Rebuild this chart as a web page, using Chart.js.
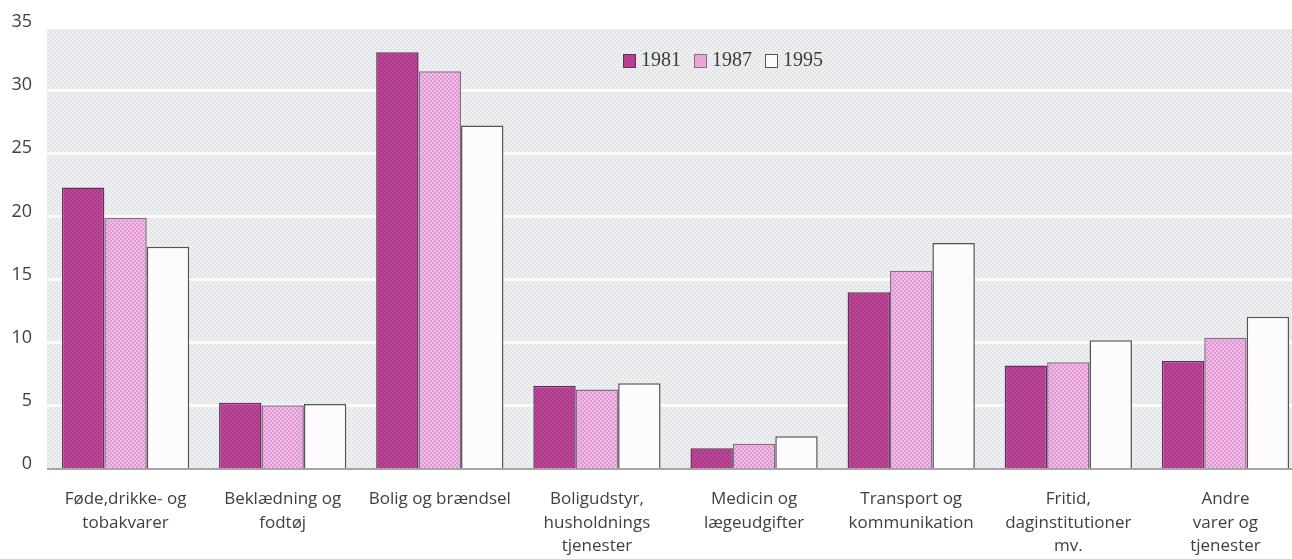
<!DOCTYPE html>
<html>
<head>
<meta charset="utf-8">
<script src="https://cdn.jsdelivr.net/npm/chart.js@4.4.1/dist/chart.umd.min.js"></script>
<style>
  html, body { margin: 0; padding: 0; background: #fff; overflow: hidden; }
  #wrap { width: 1304px; height: 559px; }
</style>
</head>
<body>
<div id="wrap"><canvas id="chart"></canvas></div>
<script>
// forbrugsandele i procent, fordelt på grupper
const categories = [
  ["Føde,drikke- og", "tobakvarer"],
  ["Beklædning og", "fodtøj"],
  ["Bolig og brændsel"],
  ["Boligudstyr,", "husholdnings", "tjenester"],
  ["Medicin og", "lægeudgifter"],
  ["Transport og", "kommunikation"],
  ["Fritid,", "daginstitutioner", "mv."],
  ["Andre", "varer og", "tjenester"]
];
const years = ["1981", "1987", "1995"];
const values1981 = [22.3, 5.25, 33.0, 6.6, 1.65, 14.0, 8.2, 8.55];
const values1987 = [19.9, 5.05, 31.5, 6.3, 2.0, 15.7, 8.45, 10.4];
const values1995 = [17.6, 5.15, 27.2, 6.8, 2.6, 17.9, 10.2, 12.05];
const yTicks = [0, 5, 10, 15, 20, 25, 30, 35];

// små ternede mønstre til baggrund og søjler
function checker(a, b, size) {
  const c = document.createElement("canvas");
  c.width = c.height = size * 2;
  const g = c.getContext("2d");
  g.fillStyle = a;
  g.fillRect(0, 0, size * 2, size * 2);
  g.fillStyle = b;
  g.fillRect(0, 0, size, size);
  g.fillRect(size, size, size, size);
  return g.createPattern(c, "repeat");
}

const bgPattern = checker("#e3e4e7", "#eff0f2", 2);
const fills = [
  checker("#ad3886", "#b9489a", 2),
  checker("#e196d4", "#f0bfe8", 2),
  "#fdfbfd"
];
const legendFills = ["#b43f8e", "#e7a5da", "#fdfbfd"];
const borders = ["#6b2c5e", "#8a6a86", "#555555"];

const plotBackground = {
  id: "plotBackground",
  beforeDraw(chart) {
    const { ctx, chartArea: a } = chart;
    ctx.save();
    ctx.fillStyle = bgPattern;
    ctx.fillRect(a.left, a.top + 2, a.right - a.left, a.bottom - a.top - 2);
    ctx.restore();
  }
};

// lille forklaring inde i plottet
const yearLegend = {
  id: "yearLegend",
  afterDatasetsDraw(chart) {
    const ctx = chart.ctx;
    let x = 623;
    const y = 60;
    ctx.save();
    ctx.font = "20px 'Liberation Serif'";
    ctx.textBaseline = "middle";
    chart.data.datasets.forEach((ds, i) => {
      ctx.fillStyle = legendFills[i];
      ctx.fillRect(x, y - 6, 12, 13);
      ctx.strokeStyle = ds.borderColor;
      ctx.lineWidth = 1;
      ctx.strokeRect(x + 0.5, y - 5.5, 12, 13);
      ctx.fillStyle = "#3a3a3a";
      ctx.fillText(ds.label, x + 18, y + 1);
      x += 18 + ctx.measureText(ds.label).width + 13;
    });
    ctx.restore();
  }
};

const datasets = [values1981, values1987, values1995].map((vals, i) => ({
  label: years[i],
  data: vals,
  backgroundColor: fills[i],
  borderColor: borders[i],
  borderWidth: 1.5,
  categoryPercentage: 0.81,
  barPercentage: 1
}));

new Chart(document.getElementById("chart"), {
  type: "bar",
  data: { labels: categories, datasets: datasets },
  options: {
    responsive: true,
    maintainAspectRatio: false,
    animation: false,
    layout: { padding: { top: 27, left: 0, right: 0, bottom: 2 } },
    plugins: {
      legend: { display: false },
      tooltip: { enabled: false }
    },
    scales: {
      x: {
        grid: { display: false },
        border: { display: false },
        afterFit(scale) {
          scale.height = 88;
        },
        ticks: {
          color: "#3f3f3f",
          font: { family: "'Open Sans'", size: 17, lineHeight: 1.4 },
          padding: 10,
          maxRotation: 0,
          autoSkip: false
        }
      },
      y: {
        min: 0,
        max: 35,
        afterBuildTicks(scale) {
          scale.ticks = yTicks.map((v) => ({ value: v }));
        },
        afterFit(scale) {
          scale.width = 47;
        },
        border: { display: false },
        grid: {
          drawTicks: false,
          lineWidth: (c) => (c.tick && c.tick.value === 0 ? 2 : 3),
          color: (c) => {
            if (!c.tick) return "transparent";
            if (c.tick.value === 0) return "#a5a5a8";
            if (c.tick.value === 35) return "transparent";
            return "#fbfbfc";
          }
        },
        ticks: {
          color: "#3f3f3f",
          font: { family: "'Open Sans'", size: 18 },
          padding: 15,
          labelOffset: -5
        }
      }
    }
  },
  plugins: [plotBackground, yearLegend]
});
</script>
</body>
</html>
